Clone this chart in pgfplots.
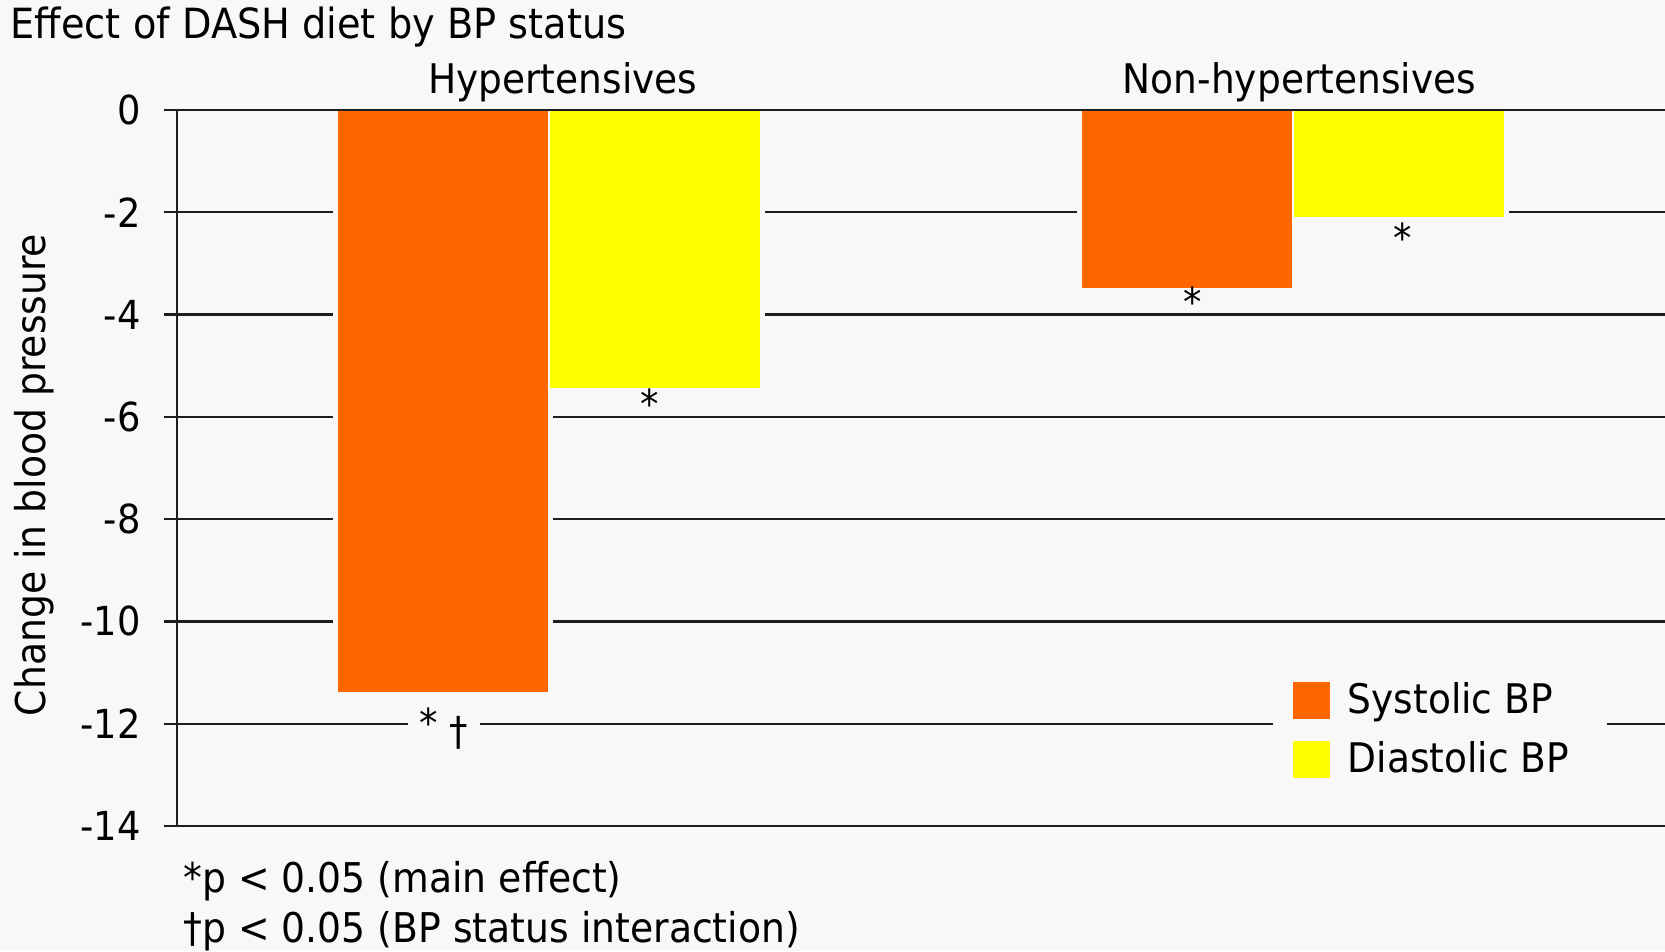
\documentclass[border=0pt]{standalone}
\usepackage{fontspec}
\setmainfont{DejaVu Sans}[FakeStretch=0.92]
\usepackage{pgfplots}
\pgfplotsset{compat=1.18}
\definecolor{bgcol}{HTML}{F8F8F8}
\definecolor{sys}{HTML}{FF6600}
\definecolor{dia}{HTML}{FFFF00}
\definecolor{gl}{HTML}{1E1E1E}
\begin{document}
\begin{tikzpicture}
\fill[bgcol] (0,0) rectangle (416.25pt,237.75pt);
\useasboundingbox (0,0) rectangle (416.25pt,237.75pt);
\node[anchor=base west, font=\fontsize{10.4}{12}\selectfont, inner sep=0pt] at (2.5pt,228pt) {Effect of DASH diet by BP status};
\node[rotate=90, font=\fontsize{10.25}{12}\selectfont, inner sep=0pt] at (8.6pt,119pt) {Change in blood pressure};
\node[anchor=base west, font=\fontsize{10.25}{12}\selectfont, inner sep=0pt] at (45.7pt,14.75pt) {*p < 0.05 (main effect)};
\node[anchor=base west, font=\fontsize{10.25}{12}\selectfont, inner sep=0pt] at (45.7pt,2.25pt) {†p < 0.05 (BP status interaction)};
\begin{axis}[
  at={(44.25pt,31.25pt)}, anchor=south west,
  scale only axis, width=372pt, height=179pt,
  xmin=0.5, xmax=2.5, ymin=-14, ymax=0,
  axis x line*=bottom, axis y line*=left,
  axis line style={gl, line width=0.6pt, -},
  xtick=\empty,
  ytick={-14,-12,-10,-8,-6,-4,-2,0},
  tick align=outside, major tick length=3.2pt,
  tick style={gl, line width=0.6pt},
  ymajorgrids, grid style={gl, line width=0.6pt},
  yticklabel style={font=\fontsize{10}{12}\selectfont, xshift=-2.4pt, /pgf/number format/assume math mode=true},
  clip=false,
  legend style={at={(rel axis cs:0.7357,0.23)}, anchor=north west, draw=none, fill=bgcol,
    font=\fontsize{10.2}{12}\selectfont, inner xsep=5pt, inner ysep=3pt, row sep=1.5pt,
    nodes={inner xsep=4.5pt}},
  legend cell align=left,
]
\addplot[ybar, bar width=0.285, bar shift=-0.1425, fill=bgcol, draw=bgcol, line width=2.2pt, forget plot] coordinates {(1,-11.4) (2,-3.5)};
\addplot[ybar, bar width=0.285, bar shift=0.1425, fill=bgcol, draw=bgcol, line width=2.2pt, forget plot] coordinates {(1,-5.45) (2,-2.1)};
\addplot[ybar, bar width=0.285, bar shift=-0.1425, fill=sys, draw=bgcol, line width=0.3pt,
  legend image code/.code={\fill[sys] (0pt,-4.5pt) rectangle (9pt,4.5pt);}] coordinates {(1,-11.4) (2,-3.5)};
\addplot[ybar, bar width=0.285, bar shift=0.1425, fill=dia, draw=bgcol, line width=0.3pt,
  legend image code/.code={\fill[dia] (0pt,-4.5pt) rectangle (9pt,4.5pt);}] coordinates {(1,-5.45) (2,-2.1)};
\legend{Systolic BP, Diastolic BP}
\draw[gl, line width=0.6pt] (axis cs:0.5,0) -- (axis cs:2.5,0);
\node[anchor=base, font=\fontsize{10.2}{12}\selectfont, yshift=4.1pt] at (axis cs:1.0185,0) {Hypertensives};
\node[anchor=base, font=\fontsize{10.2}{12}\selectfont, yshift=4.1pt] at (axis cs:2.0085,0) {Non-hypertensives};
\node[font=\fontsize{10}{12}\selectfont, inner sep=1pt] at (axis cs:1.135,-5.75) {*};
\node[font=\fontsize{10}{12}\selectfont, inner sep=1pt] at (axis cs:1.865,-3.75) {*};
\node[font=\fontsize{10}{12}\selectfont, inner sep=1pt] at (axis cs:2.147,-2.5) {*};
\node[font=\fontsize{10}{12}\selectfont, fill=bgcol, inner xsep=3pt, inner ysep=1pt] at (axis cs:0.859,-12.1) {* \raisebox{-2pt}{†}};
\end{axis}
\end{tikzpicture}
\end{document}
